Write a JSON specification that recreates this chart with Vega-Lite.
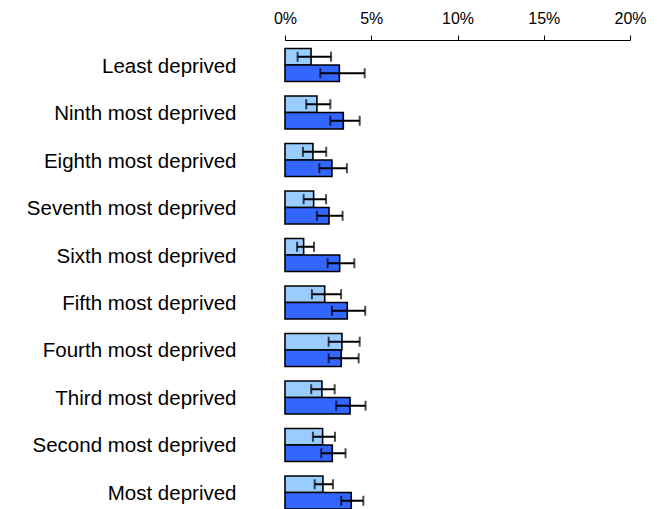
{
  "$schema": "https://vega.github.io/schema/vega-lite/v6.json",
  "width": 345,
  "height": 469,
  "autosize": {"type": "none"},
  "padding": {"left": 285, "top": 40, "right": 27, "bottom": 0},
  "background": "white",
  "config": {"view": {"stroke": null}, "font": "Liberation Sans"},
  "data": {"values": [
    {"cat": "Least deprived", "s": "A", "v": 1.51, "lo": 0.73, "hi": 2.67},
    {"cat": "Least deprived", "s": "B", "v": 3.15, "lo": 2.05, "hi": 4.62},
    {"cat": "Ninth most deprived", "s": "A", "v": 1.85, "lo": 1.23, "hi": 2.63},
    {"cat": "Ninth most deprived", "s": "B", "v": 3.38, "lo": 2.63, "hi": 4.33},
    {"cat": "Eighth most deprived", "s": "A", "v": 1.62, "lo": 1.04, "hi": 2.39},
    {"cat": "Eighth most deprived", "s": "B", "v": 2.72, "lo": 1.99, "hi": 3.59},
    {"cat": "Seventh most deprived", "s": "A", "v": 1.66, "lo": 1.08, "hi": 2.38},
    {"cat": "Seventh most deprived", "s": "B", "v": 2.55, "lo": 1.85, "hi": 3.34},
    {"cat": "Sixth most deprived", "s": "A", "v": 1.08, "lo": 0.70, "hi": 1.68},
    {"cat": "Sixth most deprived", "s": "B", "v": 3.17, "lo": 2.47, "hi": 4.02},
    {"cat": "Fifth most deprived", "s": "A", "v": 2.30, "lo": 1.56, "hi": 3.25},
    {"cat": "Fifth most deprived", "s": "B", "v": 3.61, "lo": 2.72, "hi": 4.65},
    {"cat": "Fourth most deprived", "s": "A", "v": 3.30, "lo": 2.53, "hi": 4.33},
    {"cat": "Fourth most deprived", "s": "B", "v": 3.26, "lo": 2.53, "hi": 4.27},
    {"cat": "Third most deprived", "s": "A", "v": 2.14, "lo": 1.52, "hi": 2.88},
    {"cat": "Third most deprived", "s": "B", "v": 3.77, "lo": 2.97, "hi": 4.67},
    {"cat": "Second most deprived", "s": "A", "v": 2.18, "lo": 1.62, "hi": 2.90},
    {"cat": "Second most deprived", "s": "B", "v": 2.74, "lo": 2.10, "hi": 3.51},
    {"cat": "Most deprived", "s": "A", "v": 2.20, "lo": 1.72, "hi": 2.78},
    {"cat": "Most deprived", "s": "B", "v": 3.84, "lo": 3.26, "hi": 4.54}
  ]},
  "encoding": {
    "y": {
      "field": "cat", "type": "nominal", "sort": null,
      "scale": {"paddingInner": 0.305, "paddingOuter": 0.0895, "align": 1},
      "axis": {"title": null, "ticks": false, "domain": false, "labelFontSize": 20.5, "labelColor": "black", "labelPadding": 49, "labelOffset": 1.5, "labelLimit": 300}
    },
    "yOffset": {"field": "s", "type": "nominal", "scale": {"paddingInner": 0, "paddingOuter": 0}}
  },
  "layer": [
    {
      "mark": {"type": "bar", "stroke": "black", "strokeWidth": 1.6},
      "encoding": {
        "x": {
          "field": "v", "type": "quantitative",
          "scale": {"domain": [0, 20], "nice": false},
          "axis": {"orient": "top", "title": null, "grid": false, "values": [0, 5, 10, 15, 20], "labelExpr": "datum.value + '%'", "labelFlush": false, "labelFontSize": 16, "labelColor": "black", "tickColor": "black", "domainColor": "black", "tickSize": 5, "labelPadding": 9}
        },
        "color": {"field": "s", "type": "nominal", "scale": {"domain": ["A", "B"], "range": ["#99ccff", "#3366ff"]}, "legend": null}
      }
    },
    {
      "mark": {"type": "rule", "color": "black", "strokeWidth": 2},
      "encoding": {"x": {"field": "lo", "type": "quantitative"}, "x2": {"field": "hi"}}
    },
    {
      "mark": {"type": "tick", "color": "black", "thickness": 2, "size": 10},
      "encoding": {"x": {"field": "lo", "type": "quantitative"}}
    },
    {
      "mark": {"type": "tick", "color": "black", "thickness": 2, "size": 10},
      "encoding": {"x": {"field": "hi", "type": "quantitative"}}
    }
  ]
}
